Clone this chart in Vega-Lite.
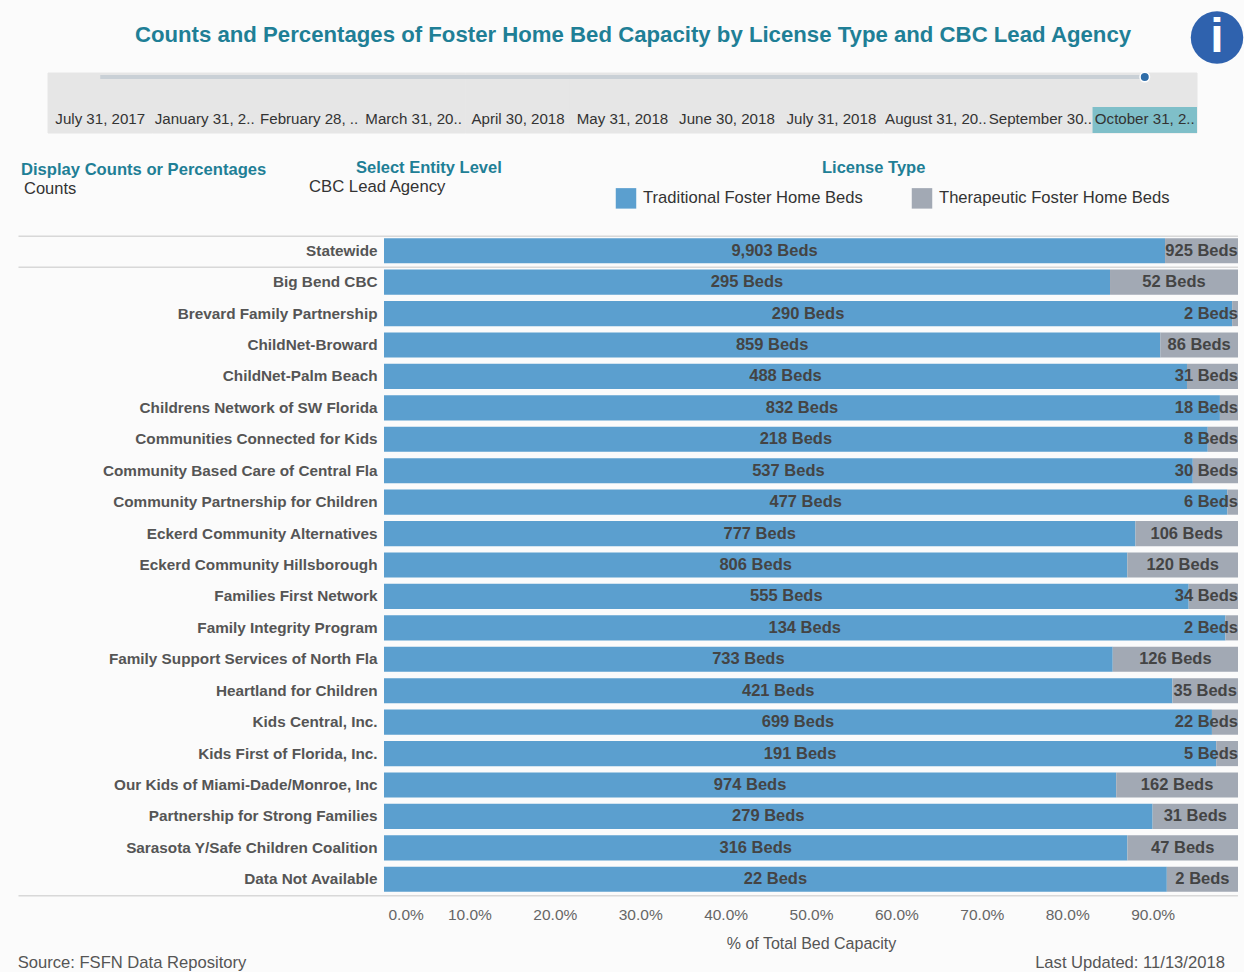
{
"$schema":"https://vega.github.io/schema/vega-lite/v6.json",
"background":"#fbfbfb",
"padding":0,
"spacing":0,
"config":{"view":{"stroke":null},"concat":{"spacing":0},"font":"Liberation Sans","text":{"font":"Liberation Sans"}},
"datasets":{
"beds":[
{"agency":"Statewide","license":"Traditional Foster Home Beds","beds":9903},{"agency":"Statewide","license":"Therapeutic Foster Home Beds","beds":925},
{"agency":"Big Bend CBC","license":"Traditional Foster Home Beds","beds":295},{"agency":"Big Bend CBC","license":"Therapeutic Foster Home Beds","beds":52},
{"agency":"Brevard Family Partnership","license":"Traditional Foster Home Beds","beds":290},{"agency":"Brevard Family Partnership","license":"Therapeutic Foster Home Beds","beds":2},
{"agency":"ChildNet-Broward","license":"Traditional Foster Home Beds","beds":859},{"agency":"ChildNet-Broward","license":"Therapeutic Foster Home Beds","beds":86},
{"agency":"ChildNet-Palm Beach","license":"Traditional Foster Home Beds","beds":488},{"agency":"ChildNet-Palm Beach","license":"Therapeutic Foster Home Beds","beds":31},
{"agency":"Childrens Network of SW Florida","license":"Traditional Foster Home Beds","beds":832},{"agency":"Childrens Network of SW Florida","license":"Therapeutic Foster Home Beds","beds":18},
{"agency":"Communities Connected for Kids","license":"Traditional Foster Home Beds","beds":218},{"agency":"Communities Connected for Kids","license":"Therapeutic Foster Home Beds","beds":8},
{"agency":"Community Based Care of Central Fla","license":"Traditional Foster Home Beds","beds":537},{"agency":"Community Based Care of Central Fla","license":"Therapeutic Foster Home Beds","beds":30},
{"agency":"Community Partnership for Children","license":"Traditional Foster Home Beds","beds":477},{"agency":"Community Partnership for Children","license":"Therapeutic Foster Home Beds","beds":6},
{"agency":"Eckerd Community Alternatives","license":"Traditional Foster Home Beds","beds":777},{"agency":"Eckerd Community Alternatives","license":"Therapeutic Foster Home Beds","beds":106},
{"agency":"Eckerd Community Hillsborough","license":"Traditional Foster Home Beds","beds":806},{"agency":"Eckerd Community Hillsborough","license":"Therapeutic Foster Home Beds","beds":120},
{"agency":"Families First Network","license":"Traditional Foster Home Beds","beds":555},{"agency":"Families First Network","license":"Therapeutic Foster Home Beds","beds":34},
{"agency":"Family Integrity Program","license":"Traditional Foster Home Beds","beds":134},{"agency":"Family Integrity Program","license":"Therapeutic Foster Home Beds","beds":2},
{"agency":"Family Support Services of North Fla","license":"Traditional Foster Home Beds","beds":733},{"agency":"Family Support Services of North Fla","license":"Therapeutic Foster Home Beds","beds":126},
{"agency":"Heartland for Children","license":"Traditional Foster Home Beds","beds":421},{"agency":"Heartland for Children","license":"Therapeutic Foster Home Beds","beds":35},
{"agency":"Kids Central, Inc.","license":"Traditional Foster Home Beds","beds":699},{"agency":"Kids Central, Inc.","license":"Therapeutic Foster Home Beds","beds":22},
{"agency":"Kids First of Florida, Inc.","license":"Traditional Foster Home Beds","beds":191},{"agency":"Kids First of Florida, Inc.","license":"Therapeutic Foster Home Beds","beds":5},
{"agency":"Our Kids of Miami-Dade/Monroe, Inc","license":"Traditional Foster Home Beds","beds":974},{"agency":"Our Kids of Miami-Dade/Monroe, Inc","license":"Therapeutic Foster Home Beds","beds":162},
{"agency":"Partnership for Strong Families","license":"Traditional Foster Home Beds","beds":279},{"agency":"Partnership for Strong Families","license":"Therapeutic Foster Home Beds","beds":31},
{"agency":"Sarasota Y/Safe Children Coalition","license":"Traditional Foster Home Beds","beds":316},{"agency":"Sarasota Y/Safe Children Coalition","license":"Therapeutic Foster Home Beds","beds":47},
{"agency":"Data Not Available","license":"Traditional Foster Home Beds","beds":22},{"agency":"Data Not Available","license":"Therapeutic Foster Home Beds","beds":2}
],
"dates":[
{"date":"July 31, 2017","selected":false},{"date":"January 31, 2..","selected":false},{"date":"February 28, ..","selected":false},{"date":"March 31, 20..","selected":false},{"date":"April 30, 2018","selected":false},{"date":"May 31, 2018","selected":false},{"date":"June 30, 2018","selected":false},{"date":"July 31, 2018","selected":false},{"date":"August 31, 20..","selected":false},{"date":"September 30..","selected":false},{"date":"October 31, 2..","selected":true}
]
},
"vconcat":[
{"hconcat":[
{"width":1190,"height":69,"data":{"values":[{"t":"Counts and Percentages of Foster Home Bed Capacity by License Type and CBC Lead Agency"}]},
 "mark":{"type":"text","fontSize":22.2,"fontWeight":"bold","color":"#1f7f96","dx":38,"dy":0},
 "encoding":{"text":{"field":"t"}}},
{"width":54,"height":69,"data":{"values":[{"t":"i"}]},
 "layer":[
 {"mark":{"type":"point","filled":true,"size":2750,"color":"#2f62ae","opacity":1,"yOffset":3},"encoding":{}},
 {"mark":{"type":"text","fontSize":48,"fontWeight":"bold","color":"white","dy":3},"encoding":{"text":{"field":"t"}}}
 ]}
]},
{"width":1244,"height":60,"data":{"name":"dates"},
 "encoding":{"x":{"field":"date","type":"nominal","sort":null,"axis":null,"scale":{"type":"band","range":[48,1197],"paddingInner":0,"paddingOuter":0}}},
 "layer":[
 {"mark":{"type":"bar","color":"#e6e6e6","stroke":"#e6e6e6","strokeWidth":1},"encoding":{}},
 {"transform":[{"filter":"datum.selected"}],"mark":{"type":"bar","color":"#7fbfc9","height":26,"yOffset":47},"encoding":{}},
 {"mark":{"type":"line","color":"#c9d0d6","strokeWidth":4,"yOffset":-26},"encoding":{}},
 {"transform":[{"filter":"datum.selected"}],"mark":{"type":"point","filled":true,"size":90,"color":"#2f6da8","stroke":"white","strokeWidth":1.5,"opacity":1,"yOffset":-26},"encoding":{}},
 {"mark":{"type":"text","fontSize":15.1,"color":"#333333","yOffset":16},"encoding":{"text":{"field":"date"}}}
 ]},
{"hconcat":[
 {"width":305,"height":101,"data":{"values":[{"t":"Counts"}]},"title":{"text":"Display Counts or Percentages","anchor":"start","offset":-45,"dx":21,"fontSize":16.6,"fontWeight":"bold","color":"#1f7f96"},
 "mark":{"type":"text","fontSize":16.5,"color":"#333333","align":"left","dx":-128.5,"dy":4.5},"encoding":{"text":{"field":"t"}}},
 {"width":310,"height":101,"data":{"values":[{"t":"CBC Lead Agency"}]},"title":{"text":"Select Entity Level","anchor":"start","offset":-42,"dx":51,"fontSize":16.5,"fontWeight":"bold","color":"#1f7f96"},
 "mark":{"type":"text","fontSize":16.7,"color":"#333333","align":"left","dx":-151,"dy":2.5},"encoding":{"text":{"field":"t"}}},
 {"width":629,"height":101,"data":{"values":[{"license":"Traditional Foster Home Beds"},{"license":"Therapeutic Foster Home Beds"}]},"title":{"text":"License Type","anchor":"start","offset":-42,"dx":207,"fontSize":16.5,"fontWeight":"bold","color":"#1f7f96"},
 "mark":{"type":"square","opacity":0},
 "encoding":{"color":{"field":"license","type":"nominal","sort":null,"scale":{"domain":["Traditional Foster Home Beds","Therapeutic Foster Home Beds"],"range":["#5b9fcf","#a2a9b4"]},
   "legend":{"title":null,"orient":"none","legendX":615,"legendY":187,"direction":"horizontal","symbolType":"square","symbolSize":420,"symbolOpacity":1,"labelFontSize":16.6,"labelOffset":6,"labelColor":"#333333","columnPadding":48,"labelLimit":300,"padding":0}}}}
]},
{"width":1238,"height":660,"data":{"name":"beds"},
 "transform":[
 {"stack":"beds","groupby":["agency"],"offset":"normalize","sort":[{"field":"license","order":"descending"}],"as":["x0","x1"]},
 {"calculate":"datum.x1-datum.x0","as":"share"},
 {"calculate":"format(datum.beds,',')+' Beds'","as":"label"},
 {"calculate":"(datum.x0+datum.x1)/2","as":"mid"}],
 "encoding":{"y":{"field":"agency","type":"nominal","sort":null,"scale":{"paddingInner":0.2,"paddingOuter":0.1},
   "axis":{"title":null,"domain":false,"ticks":false,"labelFontSize":15.3,"labelFontWeight":"bold","labelColor":"#555555","labelPadding":7,"offset":-384,"labelLimit":380}}},
 "layer":[
 {"mark":{"type":"bar"},
  "encoding":{
   "x":{"field":"x0","type":"quantitative","scale":{"domain":[0,1],"range":[384,1238]},
     "axis":{"format":".1%","values":[0,0.1,0.2,0.3,0.4,0.5,0.6,0.7,0.8,0.9],"title":"% of Total Bed Capacity","titleX":811,"titleFontSize":16,"titleFontWeight":"normal","titleColor":"#555555","titlePadding":13,"labelFontSize":15.5,"labelColor":"#666666","labelPadding":12,"labelFlush":true,"labelFlushOffset":-4,"grid":false,"domain":false,"ticks":false}},
   "x2":{"field":"x1"},
   "color":{"field":"license","type":"nominal","sort":null,"scale":{"domain":["Traditional Foster Home Beds","Therapeutic Foster Home Beds"],"range":["#5b9fcf","#a2a9b4"]},"legend":null}
  }},
 {"transform":[{"filter":"datum.share>=0.073 || datum.license=='Traditional Foster Home Beds'"}],
  "mark":{"type":"text","fontSize":16.5,"fontWeight":"bold","color":"#444444"},
  "encoding":{"x":{"field":"mid","type":"quantitative"},"text":{"field":"label"}}},
 {"transform":[{"filter":"datum.license!='Traditional Foster Home Beds' && datum.share<0.073"}],
  "mark":{"type":"text","fontSize":16.5,"fontWeight":"bold","color":"#444444","align":"right"},
  "encoding":{"x":{"datum":1,"type":"quantitative"},"text":{"field":"label"}}},
 {"data":{"values":[{"agency":"Statewide","from":-0.428,"to":1}]},"transform":[],
  "mark":{"type":"rule","color":"#d8d8d8","strokeWidth":1.5,"clip":false,"yOffset":-2},
  "encoding":{"x":{"field":"from","type":"quantitative"},"x2":{"field":"to"},"y":{"field":"agency","type":"nominal","sort":null,"bandPosition":0}}},
 {"data":{"values":[{"agency":"Statewide","from":-0.428,"to":1},{"agency":"Data Not Available","from":-0.428,"to":1}]},"transform":[],
  "mark":{"type":"rule","color":"#d8d8d8","strokeWidth":1.5,"clip":false,"yOffset":4},
  "encoding":{"x":{"field":"from","type":"quantitative"},"x2":{"field":"to"},"y":{"field":"agency","type":"nominal","sort":null,"bandPosition":1}}}
 ]},
{"width":1244,"height":20,"data":{"values":[{"note":"Source: FSFN Data Repository","side":"a"},{"note":"Last Updated: 11/13/2018","side":"b"}]},
 "mark":{"type":"text","fontSize":16.6,"color":"#555555","dy":1},
 "encoding":{"x":{"field":"side","type":"nominal","axis":null,"scale":{"type":"point","range":[132,1130],"padding":0}},"text":{"field":"note"}}}
]
}
